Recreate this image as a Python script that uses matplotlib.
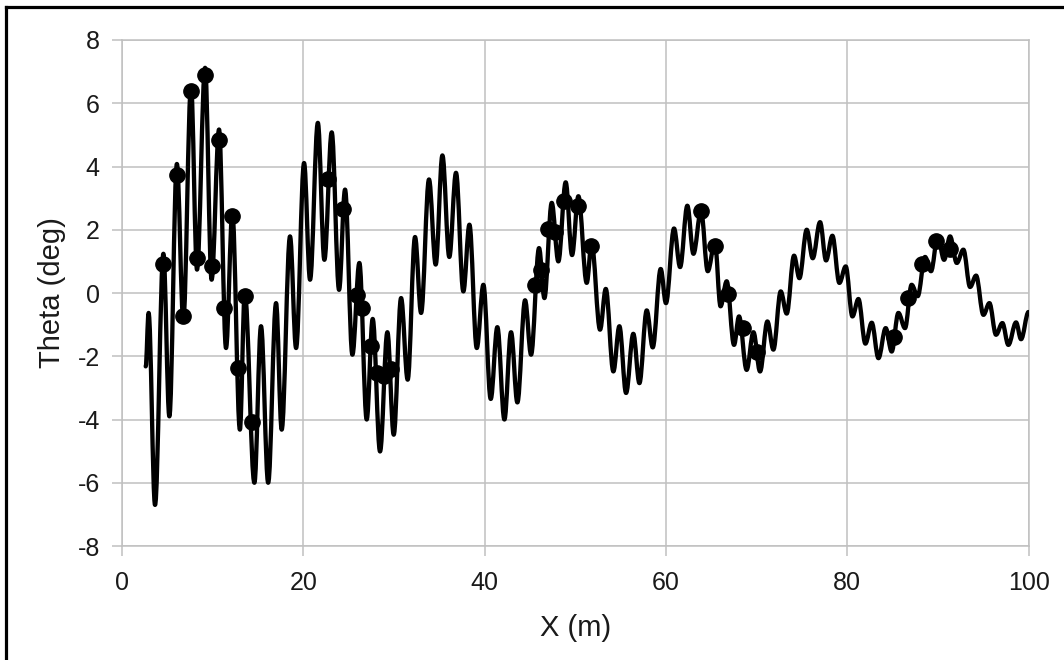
import matplotlib
matplotlib.use("Agg")
import matplotlib.pyplot as plt
from matplotlib.path import Path
from matplotlib.patches import PathPatch
from matplotlib.lines import Line2D

# curve: peaks and troughs, in order along X
curve_x = [2.61, 2.93, 3.64, 4.56, 5.22, 6.05, 6.76, 7.61, 8.27, 9.16,
           9.88, 10.7, 11.47, 12.17, 13.0, 13.54, 14.6, 15.33, 16.12, 16.99,
           17.61, 18.53, 19.2, 20.08, 20.74, 21.6, 22.32, 23.13, 23.94, 24.6,
           25.41, 26.18, 26.99, 27.65, 28.46, 29.27, 29.97, 30.78, 31.51, 32.32,
           32.99, 33.86, 34.6, 35.34, 36.1, 36.84, 37.65, 38.32, 39.13, 39.86,
           40.67, 41.4, 42.18, 42.91, 43.61, 44.46, 45.12, 46.0, 46.59, 47.4,
           48.13, 48.94, 49.64, 50.34, 51.26, 51.8, 52.73, 53.36, 54.2, 54.86,
           55.6, 56.4, 57.07, 57.88, 58.54, 59.42, 60.0, 60.89, 61.56, 62.36,
           63.03, 63.87, 64.61, 65.4, 66.02, 66.7, 67.51, 68.06, 68.9, 69.65,
           70.38, 71.19, 71.85, 72.66, 73.32, 74.13, 74.72, 75.53, 76.19, 77.0,
           77.66, 78.36, 79.13, 79.83, 80.57, 81.23, 82.0, 82.7, 83.44, 84.24,
           84.9, 85.64, 86.37, 87.1, 87.77, 88.58, 89.24, 89.98, 90.68, 91.34,
           92.08, 92.81, 93.55, 94.21, 95.02, 95.68, 96.41, 97.11, 97.77, 98.62,
           99.17, 100.0]
curve_y = [-2.32, -0.63, -6.7, 1.24, -3.9, 4.08, -0.85, 6.54, 0.74, 7.12,
           0.42, 5.17, -1.74, 2.53, -4.32, 0.0, -6.0, -1.05, -6.0, -0.32,
           -4.32, 1.79, -1.74, 4.11, 0.42, 5.38, 1.05, 5.08, 0.1, 3.27,
           -1.95, 0.95, -4.0, -0.82, -5.01, -1.24, -4.48, -0.16, -2.74, 1.77,
           -0.63, 3.59, 0.9, 4.35, 1.14, 3.8, 0.05, 2.16, -1.74, 0.26,
           -3.35, -1.08, -4.0, -1.24, -3.46, -0.23, -1.95, 1.42, -0.16, 2.85,
           1.0, 3.5, 1.2, 3.06, 0.32, 1.58, -1.16, 0.13, -2.48, -1.05,
           -3.16, -1.29, -2.85, -0.55, -1.72, 0.76, -0.32, 2.04, 0.82, 2.76,
           1.24, 2.6, 0.69, 1.6, -0.42, 0.37, -1.64, -0.74, -2.43, -1.24,
           -2.48, -0.9, -1.79, 0.05, -0.65, 1.18, 0.47, 2.0, 1.1, 2.24,
           1.03, 1.81, 0.32, 0.84, -0.74, -0.19, -1.6, -0.94, -2.06, -1.11,
           -1.85, -0.63, -1.11, 0.26, -0.1, 1.14, 0.69, 1.79, 1.05, 1.79,
           0.95, 1.37, 0.19, 0.55, -0.69, -0.32, -1.32, -0.95, -1.64, -0.93,
           -1.46, -0.6]

# measured points (dots)
dot_x = [4.56, 6.03, 6.76, 7.61, 8.27, 9.16, 9.88, 10.7, 11.29, 12.17,
         12.83, 13.54, 14.38, 22.76, 24.41, 25.9, 26.51, 27.47, 28.1, 28.94,
         29.64, 45.56, 46.22, 47.03, 47.76, 48.8, 50.27, 51.74, 63.9, 65.45,
         66.89, 68.47, 70.01, 85.2, 86.74, 88.29, 89.76, 91.34]
dot_y = [0.92, 3.74, -0.74, 6.38, 1.11, 6.9, 0.84, 4.83, -0.47, 2.43,
         -2.37, -0.08, -4.09, 3.59, 2.66, -0.05, -0.47, -1.69, -2.53, -2.62,
         -2.4, 0.26, 0.72, 2.03, 1.92, 2.92, 2.74, 1.48, 2.58, 1.48,
         -0.02, -1.11, -1.85, -1.39, -0.16, 0.92, 1.66, 1.39]

x_ticks = [0, 20, 40, 60, 80, 100]
y_ticks = [-8, -6, -4, -2, 0, 2, 4, 6, 8]

plt.rcParams['font.family'] = ['Liberation Sans', 'DejaVu Sans']
plt.rcParams['axes.unicode_minus'] = False

fig = plt.figure(figsize=(10.64, 6.6), dpi=100)
ax = fig.add_axes([0.1147, 0.1727, 0.852, 0.7667])

grey = '#c0c0c0'
ax.set_xlim(0, 100)
ax.set_ylim(-8, 8)
ax.set_xticks(x_ticks)
ax.set_yticks(y_ticks)
ax.grid(True, color=grey, lw=1.1)
ax.set_axisbelow(True)
for s in ax.spines.values():
    s.set_color(grey)
    s.set_linewidth(1.1)
ax.tick_params(axis='both', length=7, width=1.1, color=grey,
               labelsize=18, labelcolor='#1a1a1a')
ax.tick_params(axis='x', pad=11)
ax.tick_params(axis='y', pad=9)

# smooth curve through the extrema (flat tangent at each one)
verts = [(curve_x[0], curve_y[0])]
codes = [Path.MOVETO]
for i in range(len(curve_x) - 1):
    x0, y0 = curve_x[i], curve_y[i]
    x1, y1 = curve_x[i + 1], curve_y[i + 1]
    dx = x1 - x0
    verts += [(x0 + 0.36 * dx, y0), (x1 - 0.36 * dx, y1), (x1, y1)]
    codes += [Path.CURVE4] * 3
ax.add_patch(PathPatch(Path(verts, codes), fill=False, edgecolor='black',
                       lw=3.1, capstyle='round', joinstyle='round', zorder=3))

ax.plot(dot_x, dot_y, 'o', color='black', ms=11, zorder=4)

ax.set_xlabel('X (m)', fontsize=21, color='#1a1a1a', labelpad=14)
ax.set_ylabel('Theta (deg)', fontsize=21, color='#1a1a1a', labelpad=8)

# outer frame (top and left edges are visible in the picture)
fig.add_artist(Line2D([0.0061, 0.0061], [0, 0.9894], color='black', lw=2.3,
                      transform=fig.transFigure))
fig.add_artist(Line2D([0.0061, 1], [0.9894, 0.9894], color='black', lw=2.3,
                      transform=fig.transFigure))

fig.savefig('out.png', dpi=100)
